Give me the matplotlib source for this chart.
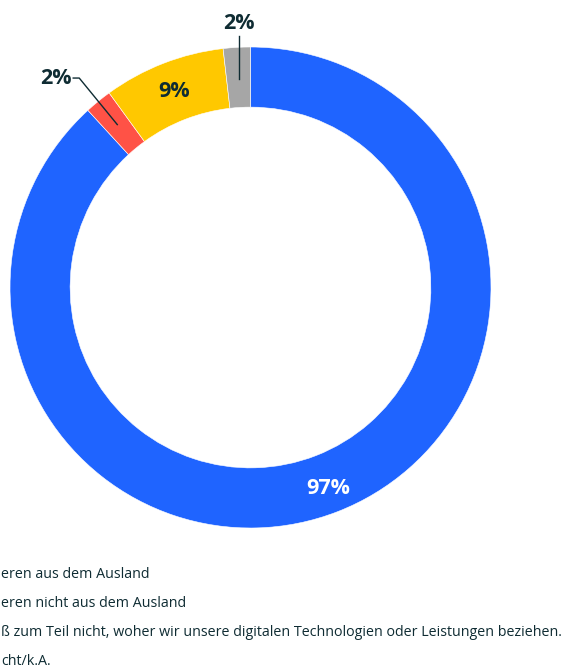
import numpy as np
import matplotlib.pyplot as plt

# data
labels = ["Wir importieren aus dem Ausland",
          "Wir importieren nicht aus dem Ausland",
          "Wir wissen zum Teil nicht, woher wir unsere digitalen Technologien oder Leistungen beziehen.",
          "Weiß nicht/k.A."]
values = [97, 2, 9, 2]
pct_text = ["97%", "2%", "9%", "2%"]
# visible part of legend text (image is cropped on the left)
legend_visible = ["eren aus dem Ausland",
                  "eren nicht aus dem Ausland",
                  "ß zum Teil nicht, woher wir unsere digitalen Technologien oder Leistungen beziehen.",
                  "cht/k.A."]
colors = ["#1f64ff", "#ff5246", "#ffc800", "#a6a6a6"]

dark = "#0f2c33"
plt.rcParams['font.family'] = ['Open Sans', 'DejaVu Sans']

W, H = 566, 671
fig = plt.figure(figsize=(W / 100, H / 100), dpi=100)

cx, cy, R = 250.5, 287.5, 240.5
ax = fig.add_axes([(cx - R) / W, (H - cy - R) / H, 2 * R / W, 2 * R / H])

wedges, _ = ax.pie(values, colors=colors, startangle=90, counterclock=False,
                   radius=1, wedgeprops=dict(width=0.25, edgecolor="white", linewidth=0.4))
# pie resets the limits, so set them afterwards
ax.set_xlim(-1, 1)
ax.set_ylim(-1, 1)
ax.axis("off")

def mid_xy(w, r):
    a = np.radians((w.theta1 + w.theta2) / 2)
    return r * np.cos(a), r * np.sin(a)

fs = 15.5
# inside labels
x, y = mid_xy(wedges[0], 0.895)
ax.text(x, y, pct_text[0], color="white", fontsize=fs, fontweight="bold",
        ha="center", va="center")
x, y = mid_xy(wedges[2], 0.875)
ax.text(x, y, pct_text[2], color=dark, fontsize=fs, fontweight="bold",
        ha="center", va="center")

# red slice: leader line
x0, y0 = mid_xy(wedges[1], 0.875)
x1, y1 = mid_xy(wedges[1], 1.125)
ax.plot([x0, x1, x1 - 0.025], [y0, y1, y1], color=dark, lw=1, clip_on=False)
ax.text(x1 - 0.03, y1, pct_text[1], color=dark, fontsize=fs, fontweight="bold",
        ha="right", va="center")

# gray slice: vertical leader
x0, y0 = mid_xy(wedges[3], 0.87)
ax.plot([x0, x0], [y0, 1.045], color=dark, lw=1, clip_on=False)
ax.text(x0, 1.098, pct_text[3], color=dark, fontsize=fs, fontweight="bold",
        ha="center", va="center", clip_on=False)

# legend (cut at the left edge in the original)
for i, t in enumerate(legend_visible):
    fig.text(1 / W, 1 - (575 + i * 28.7) / H, t, color=dark, fontsize=10.3,
             ha="left", va="center")

fig.savefig("out.png", dpi=100)
